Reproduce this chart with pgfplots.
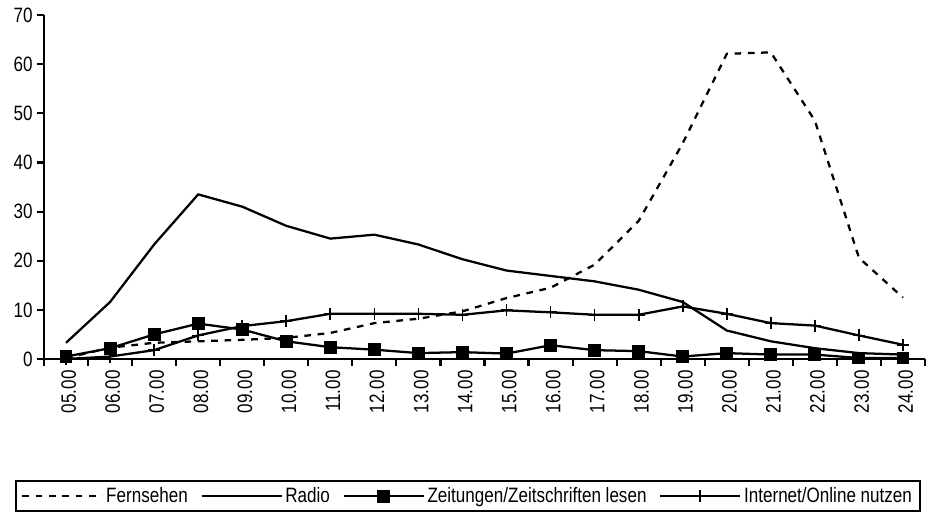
\documentclass[border=0pt]{standalone}
\usepackage{fontspec}
\setmainfont{Liberation Sans}
\newfontfamily\narrowfont[FakeStretch=0.82]{Liberation Sans}
\usepackage{pgfplots}
\pgfplotsset{compat=1.18}
\newcommand\chartfont{\narrowfont\fontsize{15.6}{18.5}\selectfont}
\begin{document}
\begin{tikzpicture}
\begin{axis}[
  scale only axis,
  width=660.75pt, height=258pt,
  xmin=-0.5, xmax=19.5,
  ymin=0, ymax=70,
  clip=false,
  axis x line*=bottom, axis y line*=left,
  axis line style={line width=1.6pt},
  every tick/.style={black, line width=1.6pt},
  tick align=outside,
  major tick length=5pt,
  xtick={-0.5,0.5,...,19.5},
  x tick label as interval=true,
  xticklabels={05.00,06.00,07.00,08.00,09.00,10.00,11.00,12.00,13.00,14.00,15.00,16.00,17.00,18.00,19.00,20.00,21.00,22.00,23.00,24.00},
  ytick={0,10,...,70},
  /pgf/number format/assume math mode=true,
  tick label style={font=\chartfont},
  x tick label style={rotate=90, anchor=east, yshift=-2pt},
  legend columns=4,
  legend style={at={(-0.0329,-0.3517)}, anchor=north west, draw=black, line width=1.4pt,
    font=\chartfont, inner xsep=4pt, inner ysep=3pt,
    nodes={inner xsep=2pt},
    /tikz/every even column/.append style={column sep=7.5pt}},
  legend image code/.code={\draw[mark repeat=2, mark phase=2, #1] plot coordinates {(0pt,0pt) (30pt,0pt) (60pt,0pt)};},
]
\addplot[black, line width=1.7pt, dash pattern=on 5pt off 5pt, mark=none] coordinates {
(0,0.2)(1,2.3)(2,3.3)(3,3.6)(4,3.9)(5,4.3)(6,5.3)(7,7.3)(8,8.2)(9,9.7)
(10,12.4)(11,14.5)(12,19.2)(13,28.1)(14,43.9)(15,62.1)(16,62.4)(17,48.5)(18,20.6)(19,12.5)};
\addlegendentry{Fernsehen}
\addplot[black, line width=1.7pt, mark=none] coordinates {
(0,3.3)(1,11.6)(2,23.3)(3,33.5)(4,31.0)(5,27.1)(6,24.5)(7,25.3)(8,23.3)(9,20.3)
(10,18.0)(11,16.9)(12,15.8)(13,14.1)(14,11.6)(15,5.8)(16,3.6)(17,2.2)(18,1.2)(19,0.9)};
\addlegendentry{Radio}
\addplot[black, line width=1.7pt, mark=square*, mark size=4pt, mark options={solid}] coordinates {
(0,0.5)(1,2.2)(2,5.0)(3,7.2)(4,6.0)(5,3.6)(6,2.4)(7,1.9)(8,1.2)(9,1.4)
(10,1.1)(11,2.8)(12,1.8)(13,1.6)(14,0.5)(15,1.2)(16,0.9)(17,0.9)(18,0.2)(19,0.2)};
\addlegendentry{Zeitungen/Zeitschriften lesen}
\addplot[black, line width=1.7pt, mark=+, mark size=4.5pt, mark options={line width=1.3pt}] coordinates {
(0,0.0)(1,0.5)(2,1.8)(3,4.8)(4,6.7)(5,7.7)(6,9.2)(7,9.2)(8,9.2)(9,9.0)
(10,9.9)(11,9.5)(12,9.0)(13,9.0)(14,10.7)(15,9.2)(16,7.3)(17,6.8)(18,4.8)(19,2.9)};
\addlegendentry{Internet/Online nutzen}
\end{axis}
\pgfresetboundingbox
\path (current axis.south west) ++(-33pt,-119.25pt) rectangle ++(698.25pt,388.5pt);
\end{tikzpicture}
\end{document}
